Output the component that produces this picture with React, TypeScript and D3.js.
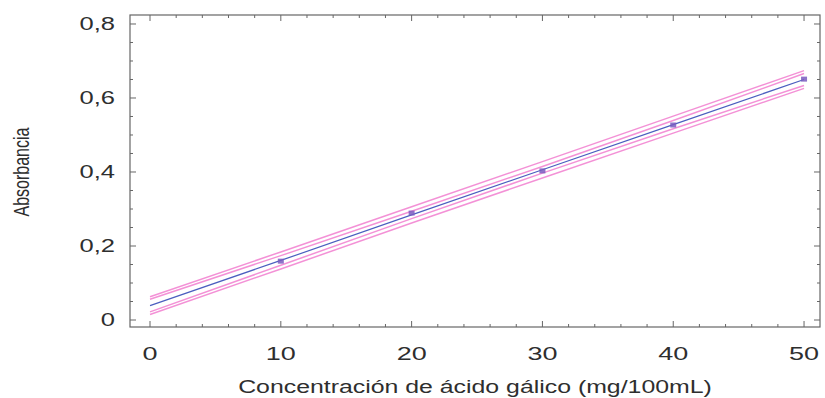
import * as d3 from 'd3';
import React, { useEffect, useRef } from 'react';

// tick labels
const xTicks = [0, 10, 20, 30, 40, 50];
const yTicks = [0, 0.2, 0.4, 0.6, 0.8];

// measured points
const concentration = [10, 20, 30, 40, 50];
const absorbance = [0.159, 0.289, 0.403, 0.527, 0.651];

// fitted line and bands
const bandX = [0, 10, 20, 30, 40, 50];
const fitted = [0.039, 0.161, 0.284, 0.406, 0.528, 0.650];
const confUpper = [0.056, 0.174, 0.294, 0.415, 0.539, 0.666];
const confLower = [0.022, 0.148, 0.274, 0.397, 0.517, 0.634];
const predUpper = [0.063, 0.184, 0.306, 0.428, 0.551, 0.674];
const predLower = [0.015, 0.138, 0.262, 0.384, 0.505, 0.626];

export default () => {
    const ref = useRef<any>();

    useEffect(() => {
        const svg = d3.select<any, any>(ref.current);
        svg.selectAll('*').remove();

        const left = 130, right = 820, top = 15, bottom = 327;
        const sx = 1.42; // source image is stretched horizontally

        const xScale = d3.scaleLinear().domain([-1.53, 51.22]).range([left, right]);
        const yScale = d3.scaleLinear().domain([-0.0189, 0.8243]).range([bottom, top]);

        const axisColor = '#666';
        const textColor = '#2e2e2e';
        const font = 'Liberation Sans, Arial, sans-serif';

        // frame
        svg.append('rect')
            .attr('x', left).attr('y', top)
            .attr('width', right - left).attr('height', bottom - top)
            .attr('fill', 'none').attr('stroke', axisColor).attr('stroke-width', 1.2);

        // ticks, inward on all four sides
        const xMinor = d3.range(0, 51, 2);
        const yMinor = d3.range(0, 0.81, 0.05);
        xMinor.forEach(v => {
            const len = v % 10 === 0 ? 6 : 3;
            const x = xScale(v);
            svg.append('line').attr('x1', x).attr('x2', x).attr('y1', bottom).attr('y2', bottom - len)
                .attr('stroke', axisColor);
            svg.append('line').attr('x1', x).attr('x2', x).attr('y1', top).attr('y2', top + len)
                .attr('stroke', axisColor);
        });
        yMinor.forEach((v, i) => {
            const len = i % 4 === 0 ? 6 : 3;
            const y = yScale(v);
            svg.append('line').attr('x1', left).attr('x2', left + len).attr('y1', y).attr('y2', y)
                .attr('stroke', axisColor);
            svg.append('line').attr('x1', right).attr('x2', right - len).attr('y1', y).attr('y2', y)
                .attr('stroke', axisColor);
        });

        const fmt = (v: number) => v === 0 ? '0' : d3.format('.1f')(v).replace('.', ',');

        svg.append('g').selectAll('text')
            .data(xTicks)
            .join('text')
            .attr('transform', d => `translate(${xScale(d)},${360}) scale(${sx},1)`)
            .attr('text-anchor', 'middle')
            .attr('font-family', font)
            .attr('font-size', 19)
            .attr('fill', textColor)
            .text(d => String(d));

        svg.append('g').selectAll('text')
            .data(yTicks)
            .join('text')
            .attr('transform', d => `translate(${115},${yScale(d) + 6}) scale(${sx},1)`)
            .attr('text-anchor', 'end')
            .attr('font-family', font)
            .attr('font-size', 18)
            .attr('fill', textColor)
            .text(d => fmt(d));

        svg.append('text')
            .attr('transform', `translate(${475},${393}) scale(${sx},1)`)
            .attr('text-anchor', 'middle')
            .attr('font-family', font)
            .attr('font-size', 17.5)
            .attr('fill', textColor)
            .text('Concentración de ácido gálico (mg/100mL)');

        // rotated title: the stretch widens the glyphs, not the run
        svg.append('text')
            .attr('transform', `translate(${29},${172}) scale(1.35,1) rotate(-90)`)
            .attr('text-anchor', 'middle')
            .attr('font-family', font)
            .attr('font-size', 16)
            .attr('fill', textColor)
            .text('Absorbancia');

        const line = (vals: number[]) =>
            d3.line<number>().x((d, i) => xScale(bandX[i])).y(d => yScale(d))(vals);

        const pink = '#f075cc';
        [predUpper, predLower, confUpper, confLower].forEach(vals => {
            svg.append('path')
                .attr('d', line(vals))
                .attr('fill', 'none')
                .attr('stroke', pink)
                .attr('stroke-width', 1.5)
                .attr('opacity', 0.8);
        });

        svg.append('path')
            .attr('d', line(fitted))
            .attr('fill', 'none')
            .attr('stroke', '#4b5fbf')
            .attr('stroke-width', 1.2);

        svg.append('g').selectAll('rect')
            .data(concentration)
            .join('rect')
            .attr('x', (d) => xScale(d) - 3)
            .attr('y', (d, i) => yScale(absorbance[i]) - 2.5)
            .attr('width', 6)
            .attr('height', 5)
            .attr('fill', '#7a5cbf')
            .attr('opacity', 0.85);
    });

    return (
        <svg ref={ref} width={825} height={398}
            style={{ position: 'absolute', left: 0, top: 0, background: '#fff' }} />
    );
}
